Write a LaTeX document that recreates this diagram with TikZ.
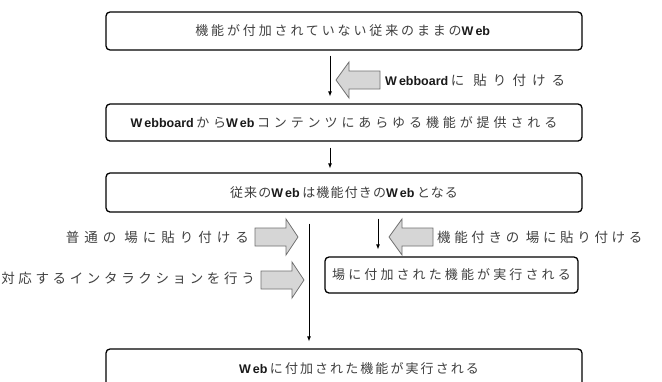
\documentclass[tikz,border=0pt]{standalone}
\usepackage{fontspec}
\newfontfamily\jp{Noto Sans CJK JP}
\newfontfamily\lat{Liberation Sans}
\usetikzlibrary{arrows.meta}
\definecolor{txt}{HTML}{404040}
\definecolor{latc}{HTML}{1A1A1A}
\definecolor{gfill}{HTML}{D6D6D6}
\definecolor{gline}{HTML}{707070}
\newcommand\jpfont[1]{\jp\fontsize{13pt}{15pt}\selectfont\addfontfeature{LetterSpace=#1}}
\newcommand\lfont[1]{\jp\fontsize{13.5pt}{15pt}\selectfont\addfontfeature{LetterSpace=#1}}
\newcommand\Wx[1]{{\lat\bfseries\fontsize{12.5pt}{14pt}\selectfont\color{latc}W\kern2pt #1}\kern2.5pt}
\tikzset{
  box/.style={draw=black, line width=1.3pt, rounded corners=4pt, minimum width=476pt, minimum height=38pt, inner sep=0pt, font=\jpfont{22}, text=txt},
  lbl/.style={font=\lfont{27}, text=txt, inner sep=0pt},
  conn/.style={-{Latex[length=5pt,width=4pt]}, line width=0.8pt},
  garrow/.style={draw=gline, fill=gfill, line width=0.8pt},
  pics/larrow/.style={code={\draw[garrow] (0,0) -- (13,-18) -- (13,-9) -- (44,-9) -- (44,9) -- (13,9) -- (13,18) -- cycle;}},
  pics/rarrow/.style={code={\draw[garrow] (0,0) -- (-12,-18) -- (-12,-9) -- (-43,-9) -- (-43,9) -- (-12,9) -- (-12,18) -- cycle;}},
}
\begin{document}
\begin{tikzpicture}[x=1pt,y=-1pt]
\clip (0,0) rectangle (662,381);
\fill[white] (0,0) rectangle (662,381);
\node[box] (b1) at (344,31) {機能が付加されていない従来のままの\Wx{eb}};
\node[box, minimum height=37pt, font=\jpfont{30}] (b2) at (344,122.5) {\Wx{ebboard}から\Wx{eb}コンテンツにあらゆる機能が提供される};
\node[box, minimum height=39pt, font=\jpfont{9}] (b3) at (344,192.5) {従来の\Wx{eb}は機能付きの\Wx{eb}となる};
\node[box, minimum width=253pt, minimum height=36pt, font=\jpfont{24}] (b5) at (451.5,275) {場に付加された機能が実行される};
\node[box, minimum height=40pt, font=\jpfont{16}] (b4) at (344,369) {\hspace*{30pt}\Wx{eb}に付加された機能が実行される};
\draw[conn, shorten <=5pt, shorten >=7pt] ([xshift=-14pt]b1.south) -- ([xshift=-14pt]b2.north);
\draw[conn, shorten <=6pt, shorten >=4pt] ([xshift=-14pt]b2.south) -- ([xshift=-14pt]b3.north);
\draw[conn, shorten <=6pt, shorten >=7pt] ([xshift=34pt]b3.south) -- ([xshift=34pt]b3.south |- b5.north);
\draw[conn, shorten <=11pt, shorten >=7pt] ([xshift=-35pt]b3.south) -- ([xshift=-35pt]b4.north);
\pic at (336,80) {larrow};
\pic at (298,237) {rarrow};
\pic at (304,280) {rarrow};
\pic at (389,237) {larrow};
\node[lbl, anchor=west, font=\lfont{45}] (l1) at (385,80) {\Wx{ebboard}に 貼り付ける};
\node[lbl, anchor=east, font=\lfont{37}] (l2) at (249,237) {普通の 場に貼り付ける};
\node[lbl, anchor=east] (l3) at (255,278) {対応するインタラクションを行う};
\node[lbl, anchor=west] (l4) at (437,237) {機能付きの 場に貼り付ける};
\end{tikzpicture}
\end{document}
